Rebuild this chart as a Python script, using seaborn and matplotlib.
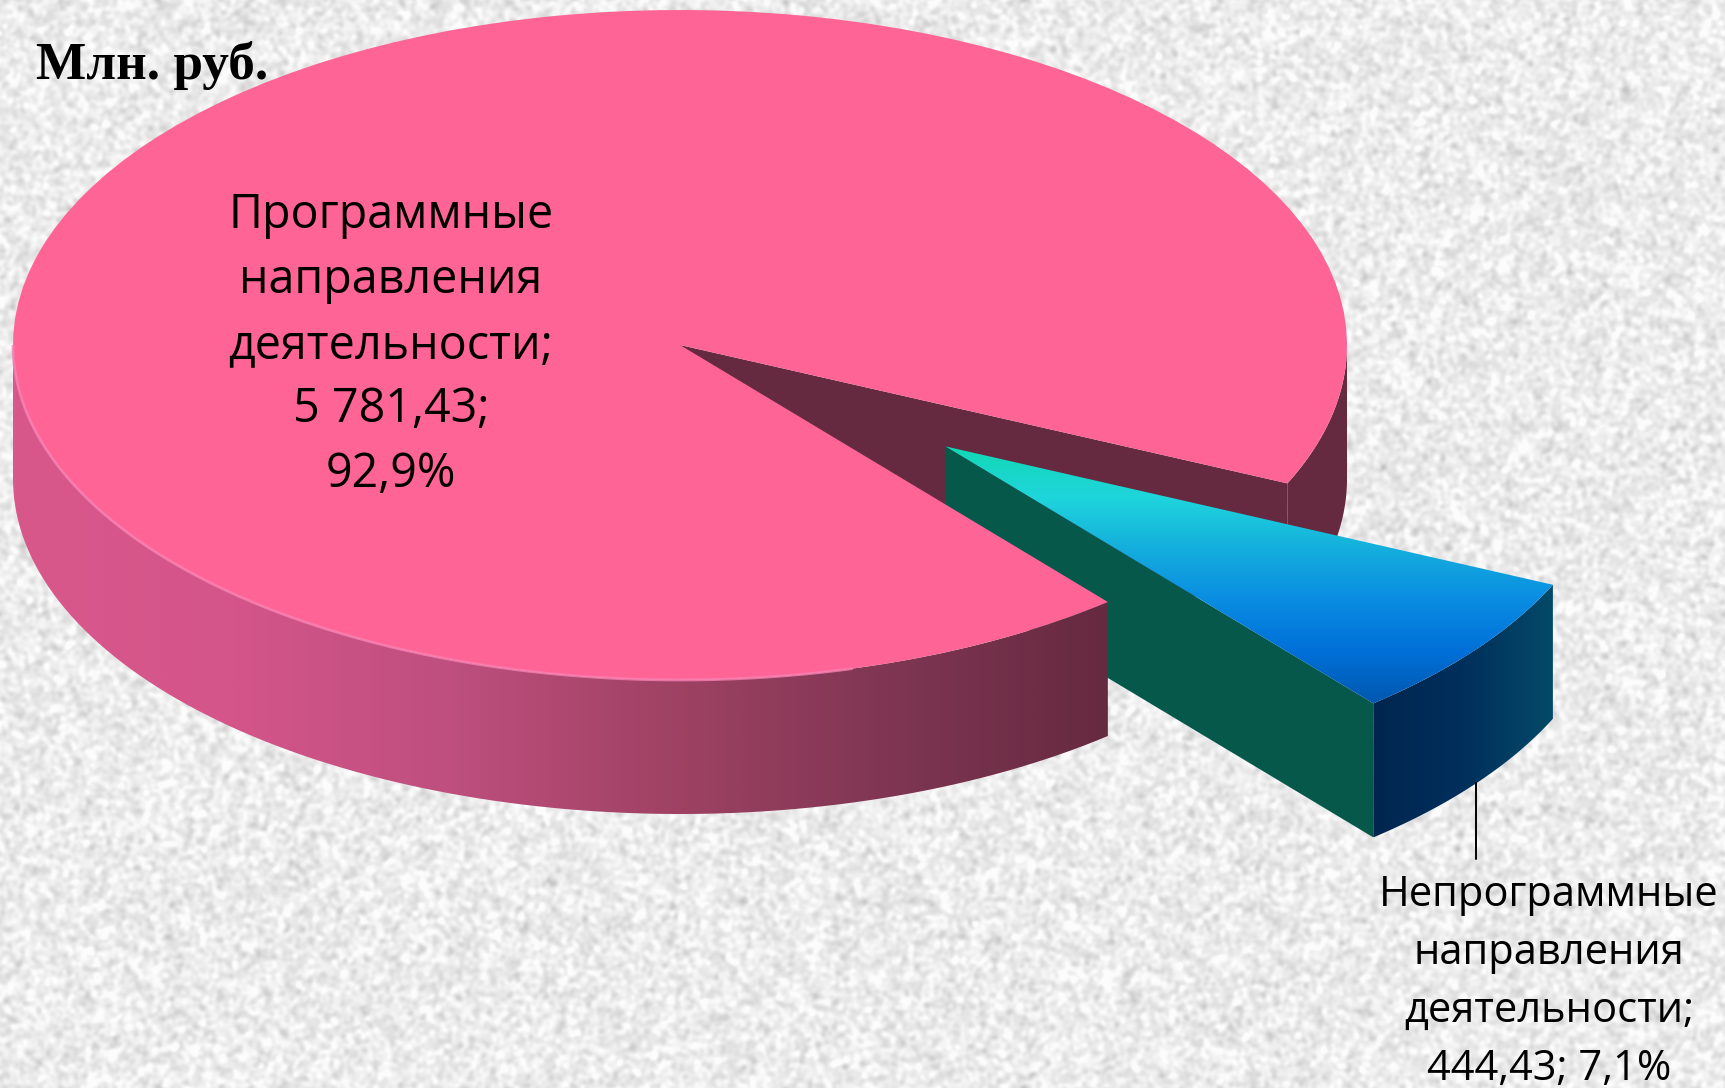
# 3D-looking budget pie, built from a flattened seaborn/matplotlib pie
import numpy as np
import seaborn as sns
from matplotlib import pyplot as plt
from matplotlib.path import Path
from matplotlib.patches import PathPatch

# --- DATA ---
categories = ["Программные\nнаправления\nдеятельности;", "Непрограммные\nнаправления\nдеятельности;"]
values = [5781.43, 444.43]
value_labels = ["5 781,43;", "444,43;"]
share_labels = ["92,9%", "7,1%"]
unit_label = "Млн. руб."

# --- LAYOUT ---
W, H = 1725, 1088
cx, cy = 680, 345    # pie centre, px
rx, ry = 667, 335    # ellipse semi axes, px
depth = 0.40         # wall height in pie units
explode = 0.5

sns.set_theme(style="white")
plt.rcParams["font.family"] = ["Open Sans", "DejaVu Sans"]

fig = plt.figure(figsize=(W / 100, H / 100), dpi=100)
ax = fig.add_axes([0, 0, 1, 1])

xlim = (-cx / rx, (W - cx) / rx)
ylim = (-(H - cy) / ry, cy / ry)

wedges, _ = ax.pie(values, startangle=-24.4, explode=[0, explode], radius=1,
                   colors=["#ff6496", "#1fd5dc"], wedgeprops={"linewidth": 0})
main, small = wedges


def rim(center, t1, t2, n=200):
    t = np.radians(np.linspace(t1, t2, n))
    return center[0] + np.cos(t), center[1] + np.sin(t)


def wall_path(center, t1, t2):
    x, y = rim(center, t1, t2)
    xs = np.r_[x, x[::-1], x[0]]
    ys = np.r_[y, y[::-1] - depth, y[0]]
    return Path(np.c_[xs, ys])


def gradient(path, colors, vertical, z):
    # fill a path with a gradient running over its own bounding box
    cmap = sns.blend_palette(colors, n_colors=256, as_cmap=True)
    box = path.get_extents()
    ramp = np.linspace(0, 1, 512)
    ramp = ramp[:, None] if vertical else ramp[None, :]
    im = ax.imshow(ramp, cmap=cmap, vmin=0, vmax=1, aspect="auto", zorder=z, origin="upper",
                   extent=(box.x0, box.x1, box.y0, box.y1), interpolation="bilinear")
    im.set_clip_path(PathPatch(path, transform=ax.transData))
    return im


def side_face(center, theta, color, z):
    x0, y0 = center
    x1, y1 = rim(center, theta, theta, 1)
    ax.fill([x0, x1[0], x1[0], x0], [y0, y1[0], y1[0] - depth, y0 - depth],
            color=color, lw=0, zorder=z)


# paper texture behind the chart, only a backdrop
rng = np.random.default_rng(7)
tex = rng.normal(size=(H, W))
fx = np.fft.fftfreq(W)[None, :]
fy = np.fft.fftfreq(H)[:, None]
tex = np.fft.ifft2(np.fft.fft2(tex) * np.exp(-(fx ** 2 + fy ** 2) * 95)).real
tex = 236 + 9 * tex / tex.std()
ax.imshow(np.clip(tex, 195, 252), cmap="gray", vmin=0, vmax=255, aspect="auto", zorder=0,
          extent=(*xlim, *ylim), interpolation="bilinear")

c_main = main.center
c_small = small.center
maroon = "#662a40"

# back part of the big slice: right wall and cut face
ax.add_patch(PathPatch(wall_path(c_main, main.theta1, 0), fc=maroon, lw=0, zorder=1))
side_face(c_main, main.theta1, maroon, 2)

# moved out slice: green cut face, blue outer wall, gradient top
side_face(c_small, small.theta1, "#05584a", 3)
gradient(wall_path(c_small, small.theta1, small.theta2), ["#00264f", "#002f5c", "#044a68"], False, 4)
small_path = small.get_patch_transform().transform_path(small.get_path())
small.set_alpha(0)
gradient(small_path, ["#12d8b4", "#1fd5dc", "#14aedd", "#0a8ce2", "#0070d8", "#0058b0"], True, 5)

# front wall of the big slice, then its top
gradient(wall_path(c_main, 180, small.theta1),
         ["#d9588c", "#d4558a", "#be4f7e", "#a04263", "#7f3652", "#662a40"], False, 6)
main.set_zorder(7)

# light rim on the front left edge
x, y = rim(c_main, 180, 285)
ax.plot(x, y, color="#f781b2", lw=2, alpha=0.8, zorder=8, solid_capstyle="butt")

# leader from the moved slice down to its label
mid = np.radians((small.theta1 + small.theta2) / 2)
lx = c_small[0] + np.cos(mid)
ly = c_small[1] + np.sin(mid) - depth
ax.plot([lx, lx], [ly, ly - 0.225], color="black", lw=1.4, zorder=9)

ax.set_xlim(xlim)
ax.set_ylim(ylim)
ax.set_aspect("auto")
ax.axis("off")

fig.text(391 / W, 1 - 345 / H, f"{categories[0]}\n{value_labels[0]}\n{share_labels[0]}",
         ha="center", va="center", fontsize=33.6, linespacing=1.47, color="black", zorder=10)
fig.text(1549 / W, 1 - 982 / H, f"{categories[1]}\n{value_labels[1]} {share_labels[1]}",
         ha="center", va="center", fontsize=30, linespacing=1.49, color="black", zorder=10)
fig.text(36 / W, 1 - 66 / H, unit_label, ha="left", va="center", fontsize=38.3,
         fontweight="bold", family=["Liberation Serif", "DejaVu Serif"], color="black", zorder=10)

fig.savefig("out.png", dpi=100)
